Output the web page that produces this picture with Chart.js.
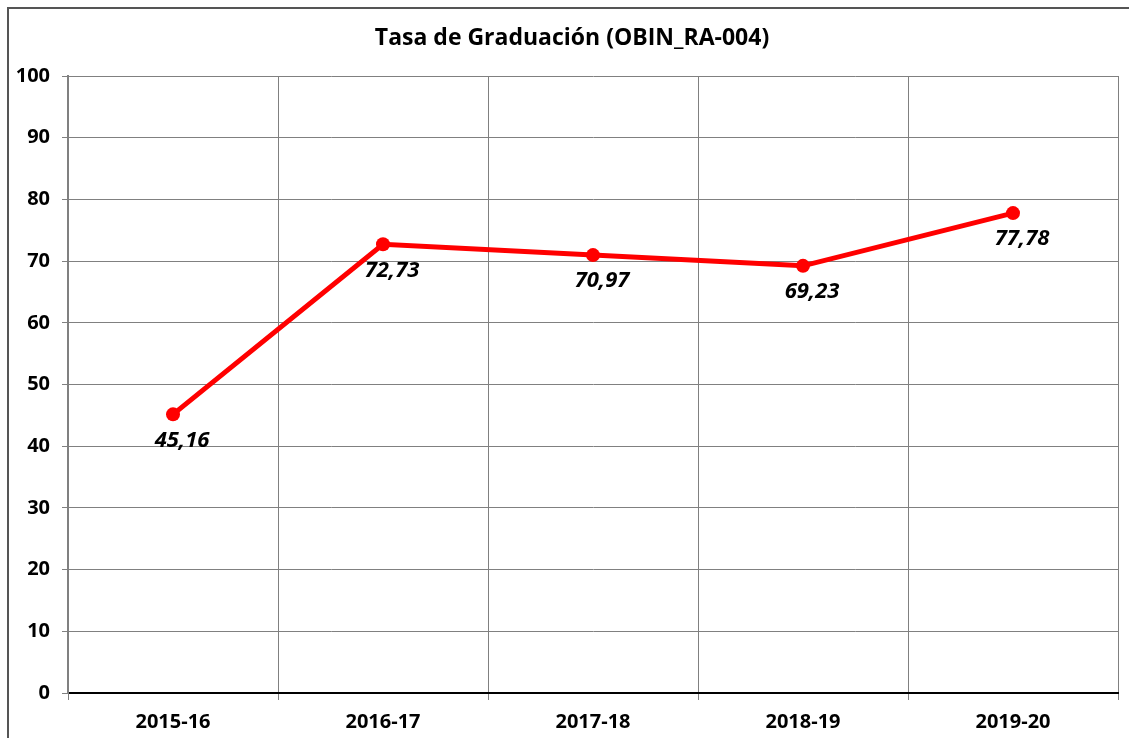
<!DOCTYPE html>
<html>
<head>
<meta charset="utf-8">
<script src="https://cdn.jsdelivr.net/npm/chart.js@4"></script>
<style>
  html, body { margin: 0; padding: 0; background: #fff; }
  canvas { display: block; }
</style>
</head>
<body>
<canvas id="gradChart" width="1129" height="738"></canvas>
<script>
const years = ['2015-16', '2016-17', '2017-18', '2018-19', '2019-20'];
const gradRate = [45.16, 72.73, 70.97, 69.23, 77.78];
const yTicks = [0, 10, 20, 30, 40, 50, 60, 70, 80, 90, 100];
const chartTitle = 'Tasa de Graduación (OBIN_RA-004)';

const FONT = '"Open Sans", Lato, sans-serif';

// outer frame + title (the original frame runs past the right edge, so the title sits a bit right of centre)
const framePlugin = {
  id: 'frame',
  afterDraw(chart) {
    const ctx = chart.ctx;
    ctx.save();
    ctx.strokeStyle = '#555';
    ctx.lineWidth = 2;
    ctx.strokeRect(8, 8, 1300, 1300);
    ctx.font = 'bold 23px ' + FONT;
    ctx.fillStyle = '#000';
    ctx.textAlign = 'center';
    ctx.textBaseline = 'middle';
    ctx.fillText(chartTitle, 572, 38);
    ctx.restore();
  }
};

// value labels under the points
const valueLabels = {
  id: 'valueLabels',
  afterDatasetsDraw(chart) {
    const ctx = chart.ctx;
    const meta = chart.getDatasetMeta(0);
    ctx.save();
    ctx.font = 'italic bold 22px ' + FONT;
    ctx.fillStyle = '#000';
    ctx.textAlign = 'center';
    ctx.textBaseline = 'middle';
    meta.data.forEach((pt, i) => {
      const txt = gradRate[i].toFixed(2).replace('.', ',');
      ctx.fillText(txt, pt.x + 9, pt.y + 26);
    });
    ctx.restore();
  }
};

new Chart(document.getElementById('gradChart').getContext('2d'), {
  type: 'line',
  data: {
    labels: years,
    datasets: [{
      data: gradRate,
      borderColor: '#ff0000',
      backgroundColor: '#ff0000',
      borderWidth: 5,
      pointRadius: 7,
      pointBackgroundColor: '#ff0000',
      pointBorderWidth: 0,
      tension: 0
    }]
  },
  options: {
    responsive: false,
    animation: false,
    layout: { padding: { left: 0, right: 11, top: 76, bottom: 0 } },
    plugins: {
      legend: { display: false },
      tooltip: { enabled: false },
      title: { display: false }
    },
    scales: {
      x: {
        offset: true,
        grid: { offset: true, color: '#808080', lineWidth: 1, tickLength: 7 },
        border: { color: '#000', width: 2 },
        ticks: {
          color: '#000',
          padding: 10,
          font: { family: FONT, size: 20, weight: 'bold' }
        },
        afterFit(scale) { scale.height = 738 - 693; }
      },
      y: {
        min: 0,
        max: 100,
        afterBuildTicks(scale) { scale.ticks = yTicks.map(v => ({ value: v })); },
        grid: { color: '#808080', lineWidth: 1, tickLength: 6 },
        border: { color: '#808080', width: 2 },
        ticks: {
          color: '#000',
          padding: 12,
          font: { family: FONT, size: 20, weight: 'bold' }
        },
        afterFit(scale) { scale.width = 68; }
      }
    }
  },
  plugins: [framePlugin, valueLabels]
});
</script>
</body>
</html>
